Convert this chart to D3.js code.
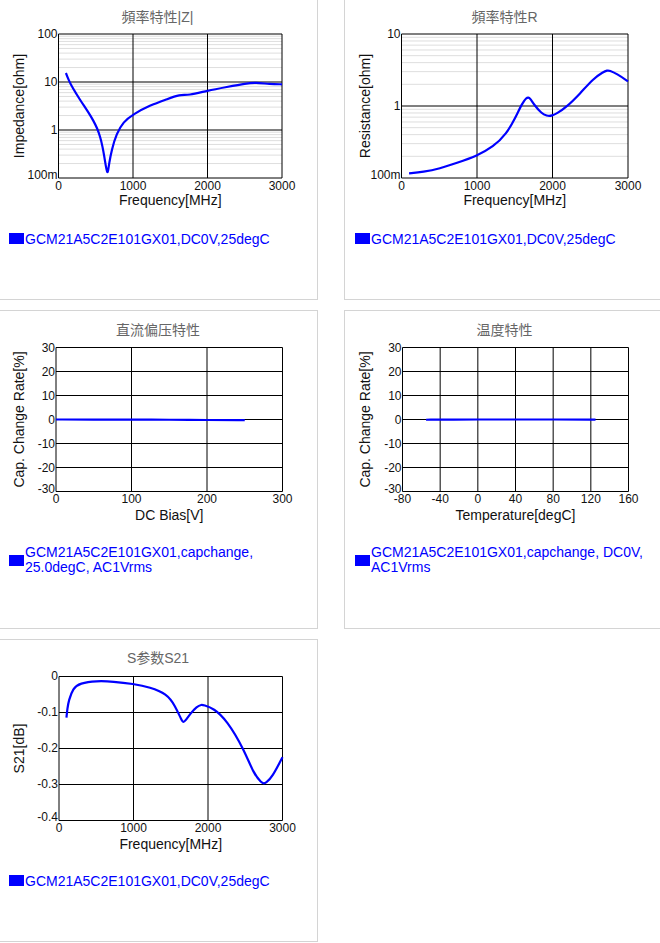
<!DOCTYPE html>
<html><head><meta charset="utf-8">
<script src="https://cdn.jsdelivr.net/npm/d3@7/dist/d3.min.js"></script>
<style>
html,body{margin:0;padding:0;background:#fff;overflow:hidden}
svg text{font-family:"Liberation Sans",Arial,"Noto Sans CJK SC",sans-serif}
</style></head><body>
<svg id="c" width="660" height="943"></svg>
<script>
const zFreq=[100,140,188,287,399,470,520,560,590,615,638,652,658,664,680,712,779,869,1000,1227,1451,1630,1742,2000,2257,2525,2637,2838,3000];
const zVals=[15.4,10.6,7.6,4.28,2.37,1.55,1.08,0.72,0.46,0.28,0.165,0.135,0.13,0.135,0.2,0.38,0.84,1.47,2.12,3.26,4.35,5.5,5.25,6.6,7.86,9.4,9.7,9.1,8.95];
const rFreq=[100,287,508,729,994,1215,1392,1502,1604,1655,1679,1703,1754,1856,1930,1958,1990,2055,2187,2364,2541,2673,2725,2755,2850,3000];
const rVals=[0.116,0.121,0.135,0.162,0.202,0.27,0.413,0.667,1.12,1.3,1.32,1.28,1.05,0.783,0.73,0.725,0.735,0.783,0.97,1.48,2.4,2.97,3.12,3.12,2.81,2.2];
const dcBias=[0,50,100,150,200,250];
const dcVals=[0,-0.02,-0.05,-0.1,-0.2,-0.3];
const temps=[-55,-25,0,25,85,125];
const tempVals=[-0.1,-0.05,0,0,0,-0.05];
const sFreq=[100,112,130,189,278,503,727,997,1222,1446,1558,1650,1671,1692,1760,1850,1915,1940,2075,2254,2479,2613,2720,2748,2776,2861,3000];
const sVals=[-0.114,-0.09,-0.067,-0.032,-0.0185,-0.012,-0.0139,-0.0204,-0.0296,-0.048,-0.0806,-0.124,-0.127,-0.124,-0.104,-0.083,-0.078,-0.0796,-0.088,-0.122,-0.201,-0.27,-0.296,-0.297,-0.296,-0.28,-0.224];
const freqTicks=[0,1000,2000,3000];
const dcTicks=[0,100,200,300];
const tempTicks=[-80,-40,0,40,80,120,160];
const capTicks=[-30,-20,-10,0,10,20,30];
const s21Ticks=[-0.4,-0.3,-0.2,-0.1,0];
const legendMain="GCM21A5C2E101GX01,DC0V,25degC";

const charts=[
 {title:"頻率特性|Z|",xl:"Frequency[MHz]",yl:"Impedance[ohm]",xs:zFreq,ys:zVals,xd:[0,3000],yd:[0.1,100],log:true,xt:freqTicks,yt:[0.1,1,10,100],
  box:[-1,-1,317.5,299.5],plot:[58.5,34,282,178],leg:[legendMain],legY:239,lx:9,ylx:24,tc:157.5,ty:22,xly:205,yo:3.8},
 {title:"頻率特性R",xl:"Frequency[MHz]",yl:"Resistance[ohm]",xs:rFreq,ys:rVals,xd:[0,3000],yd:[0.1,10],log:true,xt:freqTicks,yt:[0.1,1,10],
  box:[344.5,-1,670,299.5],plot:[401.5,34,628,178],leg:[legendMain],legY:239,lx:355,ylx:370,tc:504.5,ty:22,xly:205,yo:3.8},
 {title:"直流偏压特性",xl:"DC Bias[V]",yl:"Cap. Change Rate[%]",xs:dcBias,ys:dcVals,xd:[0,300],yd:[-30,30],xt:dcTicks,yt:capTicks,
  box:[-1,310.5,317.5,628.5],plot:[56,347.5,282.5,491.5],leg:["GCM21A5C2E101GX01,capchange,","25.0degC, AC1Vrms"],legY:552,lx:9,ylx:24,tc:158,ty:335,xly:520,yo:4},
 {title:"温度特性",xl:"Temperature[degC]",yl:"Cap. Change Rate[%]",xs:temps,ys:tempVals,xd:[-80,160],yd:[-30,30],xt:tempTicks,yt:capTicks,
  box:[344.5,310.5,670,628.5],plot:[402.5,347.5,628.5,491.5],leg:["GCM21A5C2E101GX01,capchange, DC0V,","AC1Vrms"],legY:552,lx:355,ylx:370,tc:504.5,ty:335,xly:520,yo:4},
 {title:"S参数S21",xl:"Frequency[MHz]",yl:"S21[dB]",xs:sFreq,ys:sVals,xd:[0,3000],yd:[-0.4,0],xt:freqTicks,yt:s21Ticks,
  box:[-1,639.5,317.5,941.5],plot:[59,676.5,282.5,820.5],leg:[legendMain],legY:881,lx:9,ylx:24,tc:158,ty:663,xly:849,yo:3.8}
];
const fmtLog=v=>v<1?Math.round(v*1000)+"m":String(v);
const svg=d3.select("#c");
charts.forEach(c=>{
 const [x0,y0,x1,y1]=c.plot;
 const g=svg.append("g");
 g.append("rect").attr("x",c.box[0]).attr("y",c.box[1]).attr("width",c.box[2]-c.box[0]).attr("height",c.box[3]-c.box[1]).attr("fill","#fff").attr("stroke","#d4d4d4");
 g.append("text").attr("x",c.tc).attr("y",c.ty).attr("text-anchor","middle").attr("fill","#666").style("font-size","14px").text(c.title);
 const x=d3.scaleLinear().domain(c.xd).range([x0,x1]);
 const y=(c.log?d3.scaleLog():d3.scaleLinear()).domain(c.yd).range([y1,y0]);
 if(c.log){
  const minors=[];
  for(let i=0;i<c.yt.length-1;i++)for(let m=2;m<=9;m++)minors.push(c.yt[i]*m);
  g.selectAll(null).data(minors).join("line").attr("x1",x0).attr("x2",x1).attr("y1",d=>y(d)).attr("y2",d=>y(d)).attr("stroke","#dedede").attr("stroke-width",1);
 }
 g.selectAll(null).data(c.yt).join("line").attr("x1",x0).attr("x2",x1).attr("y1",d=>y(d)).attr("y2",d=>y(d)).attr("stroke","#000").attr("stroke-width",1);
 g.selectAll(null).data(c.xt).join("line").attr("y1",y0).attr("y2",y1).attr("x1",d=>x(d)).attr("x2",d=>x(d)).attr("stroke","#000").attr("stroke-width",1);
 g.selectAll(null).data(c.xt).join("text").attr("x",d=>x(d)).attr("y",y1+(c.log?11.5:11)).attr("text-anchor","middle").attr("fill","#111").style("font-size","12px").text(d=>d);
 g.selectAll(null).data(c.yt).join("text").attr("x",x0-1).attr("y",(d,i)=>y(d)+(i===0?c.yo-3:c.yo)).attr("text-anchor","end").attr("fill","#111").style("font-size","12px").text(d=>c.log?fmtLog(d):d);
 g.append("text").attr("x",(x0+x1)/2).attr("y",c.xly).attr("text-anchor","middle").attr("fill","#111").style("font-size","14px").text(c.xl);
 g.append("text").attr("transform",`translate(${c.ylx},${(y0+y1)/2}) rotate(-90)`).attr("text-anchor","middle").attr("fill","#111").style("font-size","14px").text(c.yl);
 const line=d3.line().x(d=>x(d[0])).y(d=>y(d[1])).curve(d3.curveBasis);
 g.append("path").datum(c.xs.map((v,i)=>[v,c.ys[i]])).attr("d",line).attr("fill","none").attr("stroke","#0000ff").attr("stroke-width",2.2);
 const two=c.leg.length>1;
 g.append("rect").attr("x",c.lx).attr("y",two?c.legY+3:c.legY-6).attr("width",15).attr("height",11).attr("fill","#0000ff");
 c.leg.forEach((t,i)=>g.append("text").attr("x",c.lx+16).attr("y",c.legY+5+i*15).attr("fill","#0000ff").style("font-size","14px").text(t));
});
</script></body></html>
